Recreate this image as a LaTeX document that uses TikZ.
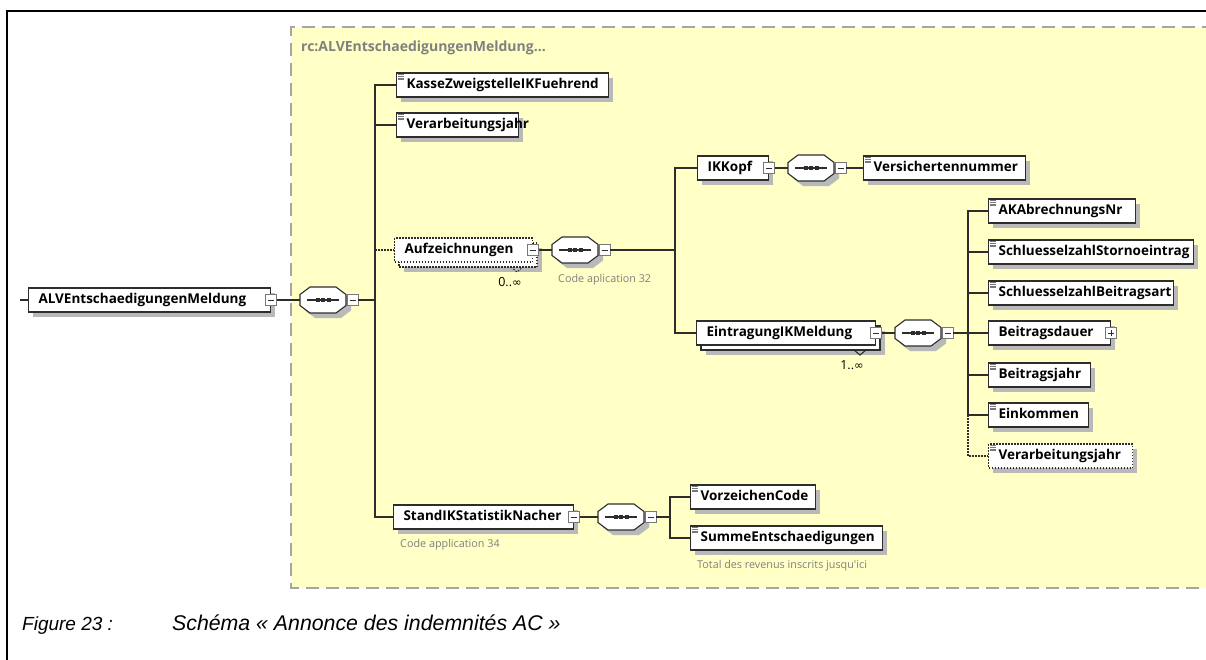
\documentclass[tikz,border=0pt]{standalone}
\usepackage{fontspec}
\setmainfont{Liberation Sans}
\newfontfamily\dfont{Open Sans}
\newfontfamily\symfont{DejaVu Sans}
\usetikzlibrary{calc}
\definecolor{ybg}{RGB}{255,255,198}
\definecolor{ydash}{RGB}{165,165,165}
\definecolor{lnc}{RGB}{45,45,45}
\definecolor{shc}{RGB}{185,185,185}
\definecolor{annc}{RGB}{128,128,128}
\definecolor{minc}{RGB}{120,120,120}
\tikzset{
  conn/.style={draw=lnc, line width=1.1pt},
  dotconn/.style={conn, dash pattern=on 1.5pt off 1.5pt},
  boxline/.style={draw=lnc, fill=white, line width=1.1pt},
  elem/.style={boxline, rectangle, minimum height=24pt, inner xsep=10pt, inner ysep=0pt,
    text height=9.8pt, text depth=3.2pt, font=\dfont\bfseries\fontsize{13.5}{15}\selectfont},
  optelem/.style={dash pattern=on 1.5pt off 1.5pt},
  minbox/.style={draw=minc, fill=white, line width=0.8pt, minimum size=11pt, inner sep=0pt, rectangle},
  compbox/.style={rectangle, minimum width=46pt, minimum height=26pt, inner sep=0pt, anchor=west},
  ann/.style={font=\dfont\fontsize{10.8}{12}\selectfont, text=annc, inner sep=0pt, anchor=west},
  mult/.style={font=\dfont\fontsize{12.5}{14}\selectfont, inner sep=0pt},
  captext/.style={inner sep=0pt, anchor=base west},
  iconline/.style={draw=minc, line width=0.8pt},
}
% element box: [opts] name, left, right, centre y, text
\newcommand\xEl[6][]{%
  \fill[shc] ({#3+5},{#5-7}) rectangle ({#4+5},{#5+17});
  \node[elem,#1,minimum width={#4-#3},anchor=west] (#2) at (#3,#5)
    {\makebox[\dimexpr #4pt-#3pt-20pt\relax][l]{#6}};
}
% element box with several occurrences
\newcommand\xElM[7][]{%
  \fill[shc] ({#3+10},{#5-2}) rectangle ({#4+10},{#5+22});
  \draw[boxline,#1] ({#3+5},{#5-7}) rectangle ({#4+5},{#5+17});
  \draw[conn,#1] ({#7-6},{#5+17}) -- ({#7},{#5+22}) -- ({#7+6},{#5+17});
  \node[elem,#1,minimum width={#4-#3},anchor=west] (#2) at (#3,#5)
    {\makebox[\dimexpr #4pt-#3pt-20pt\relax][l]{#6}};
}
% leaf icon
\newcommand\xIcon[1]{%
  \foreach \k in {0,1.7,3.4,5.1}{\draw[iconline] ([shift={(2,2.2+\k)}]#1.north west) -- ++(5.5,0);}
}
% minus / plus button
\newcommand\xMin[2]{%
  \node[minbox] (#1) at (#2) {};
  \draw[draw=lnc, line width=0.8pt] ([xshift=-3pt]#1.center) -- ([xshift=3pt]#1.center);
}
\newcommand\xPlus[2]{%
  \node[minbox] (#1) at (#2) {};
  \draw[draw=lnc, line width=0.8pt] ([xshift=-3pt]#1.center) -- ([xshift=3pt]#1.center);
  \draw[draw=lnc, line width=0.8pt] ([yshift=-3pt]#1.center) -- ([yshift=3pt]#1.center);
}
% sequence compositor: name, left, centre y
\newcommand\xComp[3]{%
  \begin{scope}[shift={(#2,#3)}]
    \fill[shc] (15,-8) -- (41,-8) -- (51,-0.5) -- (51,10.5) -- (41,18) -- (15,18) -- (5,10.5) -- (5,-0.5) -- cycle;
    \draw[boxline] (10,-13) -- (36,-13) -- (46,-5.5) -- (46,5.5) -- (36,13) -- (10,13) -- (0,5.5) -- (0,-5.5) -- cycle;
    \node[compbox] (#1) at (0,0) {};
    \draw[conn] (7,0) -- (39,0);
    \foreach \d in {17.5,23,28.5}{\fill[lnc] (\d-2,-2) rectangle (\d+2,2);}
    \xMin{#1-m}{52.5,0}
  \end{scope}
}
\begin{document}
\begin{tikzpicture}[x=1pt,y=-1pt]
\useasboundingbox (0,0) rectangle (1206,659);
% frame and yellow group
\fill[ybg] (291,27) rectangle (1215,588);
\draw[ydash, line width=1.3pt, dash pattern=on 13pt off 7pt] (1215,27) -- (291,27) -- (291,588) -- (1215,588);
\draw[black, line width=2pt] (7,670) -- (7,11) -- (1215,11);
\node[font=\dfont\bfseries\fontsize{14}{16}\selectfont, text=annc, anchor=west, inner sep=0pt] (title) at (301,48) {rc:ALVEntschaedigungenMeldung...};

% elements
\xEl{root}{28}{270}{300}{ALVEntschaedigungenMeldung}
\xMin{root-m}{root.east}
\xComp{c1}{300}{300}

\xEl{kasse}{396}{608}{85}{KasseZweigstelleIKFuehrend}\xIcon{kasse}
\xEl{verarbA}{396}{518}{125}{Verarbeitungsjahr}\xIcon{verarbA}
\xElM[optelem]{aufz}{394}{532}{250}{Aufzeichnungen}{517}
\xMin{aufz-m}{aufz.east}
\xComp{c2}{552}{250}

\xEl{ikkopf}{697}{768}{168}{IKKopf}
\xMin{ikkopf-m}{ikkopf.east}
\xComp{c3}{788}{168}
\xEl{vers}{863}{1025}{168}{Versichertennummer}\xIcon{vers}

\xElM{eintr}{696}{875}{333}{EintragungIKMeldung}{860}
\xMin{eintr-m}{eintr.east}
\xComp{c4}{895}{333}

\xEl{akabr}{988}{1135}{211}{AKAbrechnungsNr}\xIcon{akabr}
\xEl{storno}{988}{1193}{252}{SchluesselzahlStornoeintrag}\xIcon{storno}
\xEl{bart}{988}{1173}{293}{SchluesselzahlBeitragsart}\xIcon{bart}
\xEl{bdauer}{988}{1110}{333}{Beitragsdauer}
\xPlus{bdauer-p}{bdauer.east}
\xEl{bjahr}{988}{1090}{375}{Beitragsjahr}\xIcon{bjahr}
\xEl{eink}{988}{1088}{415}{Einkommen}\xIcon{eink}
\xEl[optelem]{verarbB}{988}{1132}{456}{Verarbeitungsjahr}\xIcon{verarbB}

\xEl{stand}{393}{573}{517}{StandIKStatistikNacher}
\xMin{stand-m}{stand.east}
\xComp{c5}{598}{517}
\xEl{vorz}{690}{815}{497}{VorzeichenCode}\xIcon{vorz}
\xEl{summe}{690}{882}{538}{SummeEntschaedigungen}\xIcon{summe}

% annotations
\node[ann] (code32) at (558,280) {Code aplication 32};
\node[ann] (code34) at (400,545) {Code application 34};
\node[ann] (total) at (697,566) {Total des revenus inscrits jusqu'ici};
\node[mult] (m0) at (510,282) {0..{\symfont\fontsize{11.5}{13}\selectfont ∞}};
\node[mult] (m1) at (852,365) {1..{\symfont\fontsize{11.5}{13}\selectfont ∞}};

% connectors
\coordinate (rootin) at (20,300);
\draw[conn] (rootin) -- (root.west);
\draw[conn] (root-m.east) -- (c1.west);
\coordinate (t1) at (375,300);
\draw[conn] (c1-m.east) -- (t1);
\draw[conn] (t1) |- (kasse.west);
\draw[conn] (t1) |- (verarbA.west);
\draw[conn] (t1) |- (stand.west);
\draw[dotconn] (t1 |- aufz.west) -- (aufz.west);

\draw[conn] (aufz-m.east) -- (c2.west);
\coordinate (t2) at (675,250);
\draw[conn] (c2-m.east) -- (t2);
\draw[conn] (t2) |- (ikkopf.west);
\draw[conn] (t2) |- (eintr.west);
\draw[conn] (ikkopf-m.east) -- (c3.west);
\draw[conn] (c3-m.east) -- (vers.west);
\draw[conn] (eintr-m.east) -- (c4.west);

\coordinate (t3) at (968,333);
\draw[conn] (c4-m.east) -- (t3);
\draw[conn] (t3) |- (akabr.west);
\draw[conn] (t3) |- (storno.west);
\draw[conn] (t3) |- (bart.west);
\draw[conn] (t3) |- (bdauer.west);
\draw[conn] (t3) |- (bjahr.west);
\draw[conn] (t3) |- (eink.west);
\draw[dotconn] (t3 |- eink.west) |- (verarbB.west);

\draw[conn] (stand-m.east) -- (c5.west);
\coordinate (t4) at (670,517);
\draw[conn] (c5-m.east) -- (t4);
\draw[conn] (t4) |- (vorz.west);
\draw[conn] (t4) |- (summe.west);

% caption
\node[captext, font=\fontsize{19}{23}\selectfont\itshape] (figno) at (22,630) {Figure 23 :};
\node[captext, font=\fontsize{21.3}{25}\selectfont\itshape] (figt) at (172,630) {Schéma « Annonce des indemnités AC »};
\end{tikzpicture}
\end{document}
